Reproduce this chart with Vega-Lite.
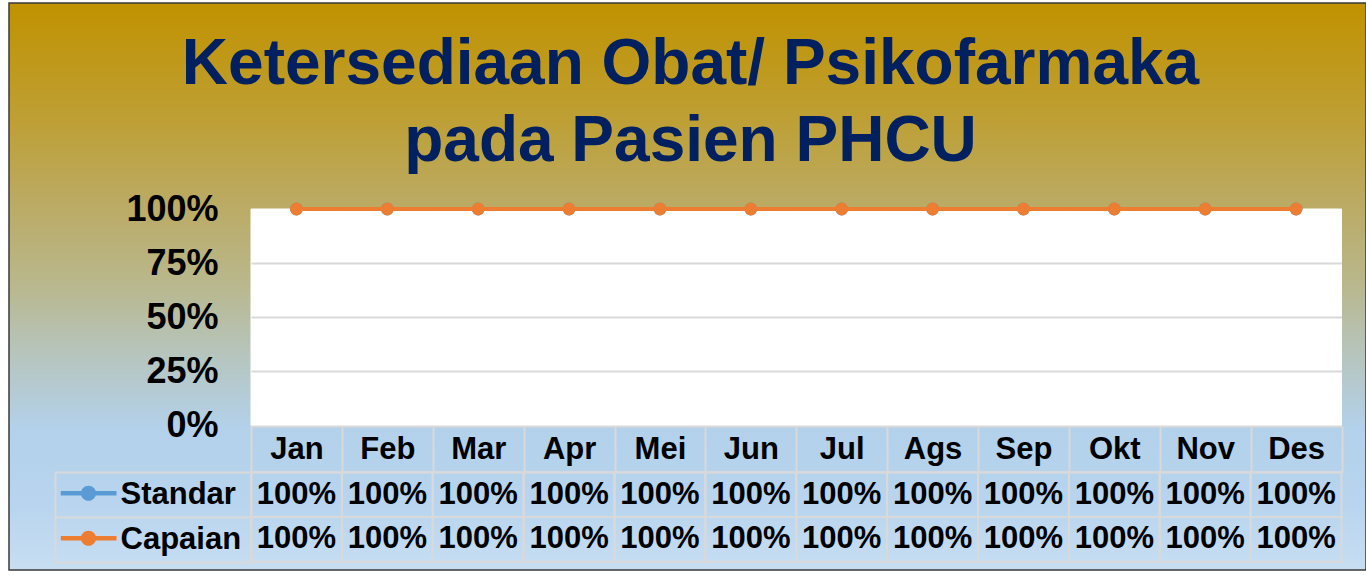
{
  "$schema": "https://vega.github.io/schema/vega-lite/v6.json",
  "width": 1357,
  "height": 567,
  "autosize": {"type": "none"},
  "padding": {"left": 9, "top": 3, "right": 0, "bottom": 5},
  "background": "#FFFFFF",
  "view": {
    "fill": {
      "gradient": "linear",
      "x1": 0, "y1": 0, "x2": 0, "y2": 1,
      "stops": [
        {"offset": 0, "color": "#C19200"},
        {"offset": 0.2, "color": "#BE9F33"},
        {"offset": 0.35, "color": "#BBAA62"},
        {"offset": 0.5, "color": "#B9B88E"},
        {"offset": 0.62, "color": "#B6C5BD"},
        {"offset": 0.75, "color": "#B3D1EA"},
        {"offset": 0.88, "color": "#B8D4EE"},
        {"offset": 1, "color": "#C7DEF2"}
      ]
    },
    "stroke": "#3A3A3A",
    "strokeWidth": 1.5
  },
  "config": {
    "font": "Liberation Sans",
    "axis": {"labelFont": "Liberation Sans", "labelFontWeight": "bold", "labelColor": "#000000"}
  },
  "title": {
    "text": ["Ketersediaan Obat/ Psikofarmaka", "pada Pasien PHCU"],
    "font": "Liberation Sans",
    "fontSize": 64,
    "fontWeight": "bold",
    "color": "#002060",
    "anchor": "middle",
    "frame": "group",
    "offset": -186.5,
    "lineHeight": 77,
    "dx": 3
  },
  "data": {
    "values": [
      {"month": "Jan", "series": "Standar", "value": 1},
      {"month": "Feb", "series": "Standar", "value": 1},
      {"month": "Mar", "series": "Standar", "value": 1},
      {"month": "Apr", "series": "Standar", "value": 1},
      {"month": "Mei", "series": "Standar", "value": 1},
      {"month": "Jun", "series": "Standar", "value": 1},
      {"month": "Jul", "series": "Standar", "value": 1},
      {"month": "Ags", "series": "Standar", "value": 1},
      {"month": "Sep", "series": "Standar", "value": 1},
      {"month": "Okt", "series": "Standar", "value": 1},
      {"month": "Nov", "series": "Standar", "value": 1},
      {"month": "Des", "series": "Standar", "value": 1},
      {"month": "Jan", "series": "Capaian", "value": 1},
      {"month": "Feb", "series": "Capaian", "value": 1},
      {"month": "Mar", "series": "Capaian", "value": 1},
      {"month": "Apr", "series": "Capaian", "value": 1},
      {"month": "Mei", "series": "Capaian", "value": 1},
      {"month": "Jun", "series": "Capaian", "value": 1},
      {"month": "Jul", "series": "Capaian", "value": 1},
      {"month": "Ags", "series": "Capaian", "value": 1},
      {"month": "Sep", "series": "Capaian", "value": 1},
      {"month": "Okt", "series": "Capaian", "value": 1},
      {"month": "Nov", "series": "Capaian", "value": 1},
      {"month": "Des", "series": "Capaian", "value": 1}
    ]
  },
  "layer": [
    {
      "layer": [
        {
          "transform": [{"filter": {"field": "series", "equal": "Standar"}}],
          "mark": {"type": "rect", "fill": "#FFFFFF", "stroke": "#FFFFFF", "strokeWidth": 1},
          "encoding": {
            "x": {
              "field": "month", "type": "nominal", "sort": null,
              "scale": {"type": "band", "domain": ["Jan","Feb","Mar","Apr","Mei","Jun","Jul","Ags","Sep","Okt","Nov","Des"], "range": [242, 1332.5], "paddingInner": 0, "paddingOuter": 0},
              "axis": {
                "orient": "top", "offset": -469, "title": null, "labelAngle": 0,
                "labelFontSize": 31, "labelFontWeight": "bold", "labelColor": "#000000",
                "labelBaseline": "middle", "labelPadding": -23,
                "tickBand": "extent", "tickSize": 46, "tickColor": "#D9D9D9", "tickWidth": 2,
                "domainColor": "#D9D9D9", "domainWidth": 2, "grid": false
              }
            },
            "y": {
              "datum": 0, "type": "quantitative",
              "scale": {"domain": [0, 1], "range": [422.5, 206], "nice": false, "zero": false},
              "axis": {
                "orient": "left", "offset": -209, "title": null,
                "values": [0, 0.25, 0.5, 0.75, 1], "format": ".0%",
                "labelFontSize": 36, "labelFontWeight": "bold", "labelColor": "#000000",
                "labelPadding": 0, "labelAlign": "right", "labelBaseline": "middle",
                "ticks": false, "domain": false,
                "grid": true, "gridColor": "#D9D9D9", "gridWidth": 2,
                "gridOpacity": {"condition": {"test": "datum.value >= 1", "value": 0}, "value": 1},
                "zindex": 1
              }
            },
            "y2": {"datum": 1}
          }
        },
        {
          "transform": [{"filter": {"field": "series", "equal": "Standar"}}],
          "mark": {"type": "line", "strokeWidth": 4},
          "encoding": {
            "x": {"field": "month", "type": "nominal", "sort": null},
            "y": {"field": "value", "type": "quantitative"},
            "color": {
              "field": "series", "type": "nominal",
              "scale": {"domain": ["Standar", "Capaian"], "range": ["#5B9BD5", "#ED7D31"]},
              "legend": {
                "orient": "none", "legendX": 51.5, "legendY": 467.8, "title": null,
                "padding": 0, "rowPadding": 0, "clipHeight": 45,
                "symbolType": "M-1,-0.08L1,-0.08L1,0.08L-1,0.08Z M0.27,0A0.27,0.27,0,1,1,-0.27,0A0.27,0.27,0,1,1,0.27,0Z",
                "symbolSize": 3136, "symbolStrokeWidth": 0, "symbolOpacity": 1,
                "labelExpr": "''", "labelFontSize": 1,
                "encode": {"symbols": {"update": {"fill": {"scale": "color", "field": "value"}, "opacity": {"value": 1}}}}
              }
            }
          }
        },
        {
          "transform": [{"filter": {"field": "series", "equal": "Standar"}}],
          "mark": {"type": "point", "filled": true, "size": 165, "opacity": 1},
          "encoding": {
            "x": {"field": "month", "type": "nominal", "sort": null},
            "y": {"field": "value", "type": "quantitative"},
            "color": {"field": "series", "type": "nominal"}
          }
        },
        {
          "transform": [{"filter": {"field": "series", "equal": "Capaian"}}],
          "mark": {"type": "line", "strokeWidth": 4},
          "encoding": {
            "x": {"field": "month", "type": "nominal", "sort": null},
            "y": {"field": "value", "type": "quantitative"},
            "color": {"field": "series", "type": "nominal"}
          }
        },
        {
          "transform": [{"filter": {"field": "series", "equal": "Capaian"}}],
          "mark": {"type": "point", "filled": true, "size": 165, "opacity": 1},
          "encoding": {
            "x": {"field": "month", "type": "nominal", "sort": null},
            "y": {"field": "value", "type": "quantitative"},
            "color": {"field": "series", "type": "nominal"}
          }
        }
      ]
    },
    {
      "layer": [
        {
          "mark": {"type": "rect", "filled": false, "stroke": "#D9D9D9", "strokeWidth": 2},
          "encoding": {
            "x": {"field": "month", "type": "nominal", "sort": null},
            "y": {
              "field": "series", "type": "nominal",
              "scale": {"type": "band", "domain": ["Standar", "Capaian"], "range": [469.3, 558.7], "paddingInner": 0, "paddingOuter": 0},
              "axis": {
                "orient": "left", "offset": -242, "title": null,
                "tickBand": "extent", "tickSize": 196, "tickColor": "#D9D9D9", "tickWidth": 2,
                "domainColor": "#D9D9D9", "domainWidth": 2,
                "labelAlign": "left", "labelPadding": -65, "labelBaseline": "middle",
                "labelFontSize": 31, "labelFontWeight": "bold", "labelColor": "#000000",
                "grid": false
              }
            }
          }
        },
        {
          "mark": {"type": "text", "fontSize": 31, "fontWeight": "bold", "color": "#000000", "align": "center", "baseline": "middle", "font": "Liberation Sans"},
          "encoding": {
            "x": {"field": "month", "type": "nominal", "sort": null},
            "y": {
              "field": "series", "type": "nominal",
              "axis": {
                "orient": "left", "offset": -46, "title": null,
                "labels": false, "ticks": false, "grid": false,
                "domain": true, "domainColor": "#D9D9D9", "domainWidth": 2
              }
            },
            "text": {"field": "value", "type": "quantitative", "format": ".0%"}
          }
        }
      ],
      "resolve": {"axis": {"y": "independent"}}
    }
  ],
  "resolve": {"scale": {"y": "independent"}}
}
